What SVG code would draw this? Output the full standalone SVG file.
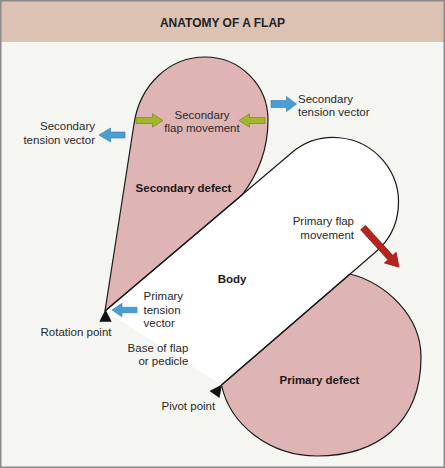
<svg xmlns="http://www.w3.org/2000/svg" width="445" height="468" viewBox="0 0 445 468">
  <style>
    .lbl { font-family: "Liberation Sans", Arial, sans-serif; font-size: 11.5px; fill: #2a2a2a; }
    .bold { font-family: "Liberation Sans", Arial, sans-serif; font-size: 11.5px; font-weight: bold; fill: #1a1a1a; }
    .title { font-family: "Liberation Sans", Arial, sans-serif; font-size: 12px; font-weight: bold; fill: #222; }
    .defect { fill: #deb4b5; stroke: #1a1a1a; stroke-width: 1.2; stroke-linejoin: round; }
    .outline { fill: none; stroke: #1a1a1a; stroke-width: 1.2; }
    .blue { fill: #4b9ed4; stroke: #2f7aae; stroke-width: 0.6; }
    .green { fill: #a4b62a; stroke: #6f7d14; stroke-width: 0.6; }
    .red { fill: #b5241f; stroke: #7d1410; stroke-width: 0.6; }
    .mark { fill: #111; }
  </style>

  <rect x="0" y="0" width="445" height="468" fill="#f5f5f1"/>
  <g id="header">
    <rect x="0" y="0" width="445" height="42" fill="#dcc2b3"/>
    <text class="title" x="222.5" y="27" text-anchor="middle">ANATOMY OF A FLAP</text>
  </g>

  <g id="body">
    <path d="M105,311 L291.7,152.7 A65,65 0 0 1 375.3,252.3 L221.5,385 Z" fill="#ffffff"/>
    <text class="bold" x="232" y="283" text-anchor="middle">Body</text>
  </g>

  <g id="secondary-defect">
    <path class="defect" d="M105,311 L134,124 C140,84 170,57 205,57 C240,57 268,85 268,120 C268,150 259,173 242,195 Z"/>
    <text class="bold" x="183.5" y="192" text-anchor="middle">Secondary defect</text>
  </g>

  <g id="primary-defect">
    <path class="defect" d="M350,274 C385,283 421,315 421,357 C421,425 375,456 317,456 C270,456 230,425 221.5,385 Z"/>
    <text class="bold" x="319.5" y="383.5" text-anchor="middle">Primary defect</text>
  </g>

  <g id="body-outline">
    <path class="outline" d="M105,311 L291.7,152.7 A65,65 0 0 1 375.3,252.3 L221.5,385"/>
  </g>

  <g id="connectors">
    <path id="arrow-sec-tension-left" class="blue" d="M99,135 L110.5,128 L110.5,132 L125,132 L125,138 L110.5,138 L110.5,142 Z"/>
    <path id="arrow-sec-tension-right" class="blue" d="M296.5,104 L286.5,96.5 L286.5,100.5 L271,100.5 L271,107.5 L286.5,107.5 L286.5,111.5 Z"/>
    <path id="arrow-primary-tension" class="blue" d="M112,310 L122,303.3 L122,307.3 L137,307.3 L137,312.7 L122,312.7 L122,316.7 Z"/>
    <path id="arrow-sec-move-left" class="green" d="M163,120.5 L152.5,113.8 L152.5,117.5 L136,117.5 L136,123.5 L152.5,123.5 L152.5,127.2 Z"/>
    <path id="arrow-sec-move-right" class="green" d="M239,120.5 L249.5,113.8 L249.5,117.5 L265,117.5 L265,123.5 L249.5,123.5 L249.5,127.2 Z"/>
    <path id="arrow-primary-move" class="red" transform="translate(363,227.5) rotate(47.8)" d="M0,-3.3 L40.6,-3.3 L40.6,-8 L53.6,0 L40.6,8 L40.6,3.3 L0,3.3 Z"/>
  </g>

  <g id="rotation-point">
    <path class="mark" d="M105.5,309.5 L111.7,321.7 L99.3,321.7 Z"/>
    <text class="lbl" x="111.5" y="335.5" text-anchor="end">Rotation point</text>
  </g>

  <g id="pivot-point">
    <path class="mark" d="M222,384.5 L219.5,398 L209.5,391 Z"/>
    <text class="lbl" x="161.5" y="409.5">Pivot point</text>
  </g>

  <g id="labels">
    <text class="lbl" x="202" y="118.5" text-anchor="middle">Secondary</text>
    <text class="lbl" x="202" y="132" text-anchor="middle">flap movement</text>
    <text class="lbl" x="95" y="129.5" text-anchor="end">Secondary</text>
    <text class="lbl" x="95" y="143.5" text-anchor="end">tension vector</text>
    <text class="lbl" x="298" y="102.5">Secondary</text>
    <text class="lbl" x="298" y="116">tension vector</text>
    <text class="lbl" x="354" y="225" text-anchor="end">Primary flap</text>
    <text class="lbl" x="354" y="239" text-anchor="end">movement</text>
    <text class="lbl" x="143.5" y="300">Primary</text>
    <text class="lbl" x="143.5" y="313.5">tension</text>
    <text class="lbl" x="143.5" y="327">vector</text>
    <text class="lbl" x="188.3" y="351.7" text-anchor="end">Base of flap</text>
    <text class="lbl" x="188.3" y="365" text-anchor="end">or pedicle</text>
  </g>

  <rect x="0.75" y="0.75" width="443.5" height="466.5" fill="none" stroke="#8a8a8a" stroke-width="1.5"/>
</svg>
